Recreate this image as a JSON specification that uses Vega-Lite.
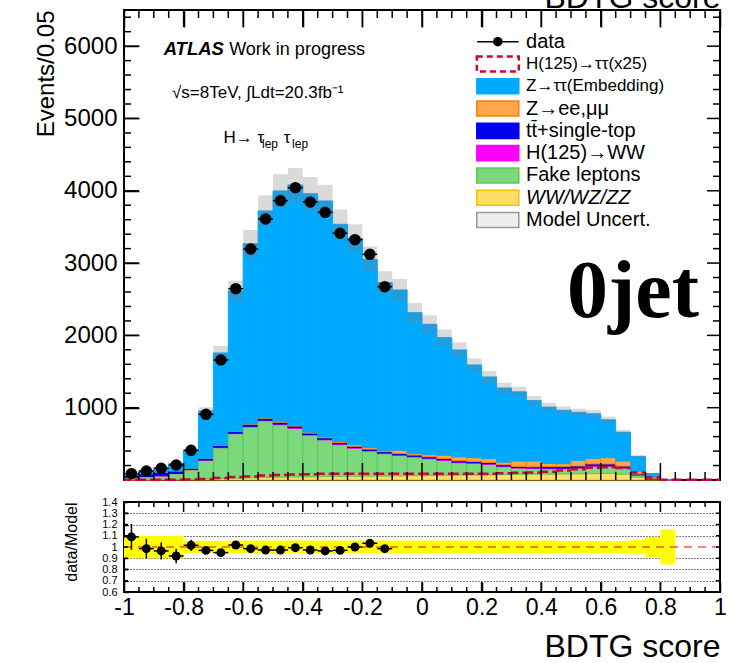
{
"$schema": "https://vega.github.io/schema/vega-lite/v6.json",
"padding": {"left": 33, "top": -20, "right": 4, "bottom": 4},
"background": "white",
"config": {
  "font": "Liberation Sans",
  "view": {"stroke": "black", "strokeWidth": 2},
  "axis": {"domain": false, "grid": false, "ticks": true, "tickColor": "black", "tickOpacity": 1, "tickWidth": 1.5, "labelColor": "black", "titleColor": "black", "labelFont": "Liberation Sans", "titleFont": "Liberation Sans", "titleFontWeight": "normal", "labelFlush": false, "labelOverlap": false, "labelBound": false, "zindex": 1}
},
"spacing": 11,
"datasets": {
  "bins": [
    {"lo":-1,"hi":-0.95,"vv":5,"fake":30,"hww":2,"top":30,"zll":1,"ztt":13,"htt":3,"unc":0.1,"data":88,"derr":9.4,"ratio":1.09,"rerr":0.115},
    {"lo":-0.95,"hi":-0.9,"vv":6,"fake":40,"hww":2,"top":40,"zll":1,"ztt":37,"htt":3,"unc":0.1,"data":124,"derr":11.1,"ratio":0.985,"rerr":0.088},
    {"lo":-0.9,"hi":-0.85,"vv":7,"fake":50,"hww":3,"top":45,"zll":2,"ztt":60,"htt":3,"unc":0.1,"data":161,"derr":12.7,"ratio":0.965,"rerr":0.076},
    {"lo":-0.85,"hi":-0.8,"vv":8,"fake":80,"hww":3,"top":35,"zll":2,"ztt":97,"htt":3,"unc":0.1,"data":207,"derr":14.4,"ratio":0.92,"rerr":0.064},
    {"lo":-0.8,"hi":-0.75,"vv":10,"fake":132,"hww":4,"top":15,"zll":2,"ztt":247,"htt":8,"unc":0.055,"data":410,"derr":20.2,"ratio":1.015,"rerr":0.05},
    {"lo":-0.75,"hi":-0.7,"vv":15,"fake":257,"hww":5,"top":20,"zll":3,"ztt":654,"htt":15,"unc":0.055,"data":908,"derr":30.1,"ratio":0.97,"rerr":0.033},
    {"lo":-0.7,"hi":-0.65,"vv":20,"fake":427,"hww":6,"top":25,"zll":4,"ztt":1275,"htt":28,"unc":0.055,"data":1660,"derr":40.7,"ratio":0.95,"rerr":0.024},
    {"lo":-0.65,"hi":-0.6,"vv":25,"fake":616,"hww":7,"top":25,"zll":5,"ztt":1936,"htt":40,"unc":0.055,"data":2646,"derr":51.4,"ratio":1.018,"rerr":0.02},
    {"lo":-0.6,"hi":-0.55,"vv":30,"fake":705,"hww":8,"top":25,"zll":6,"ztt":2494,"htt":50,"unc":0.058,"data":3195,"derr":56.5,"ratio":0.985,"rerr":0.018},
    {"lo":-0.55,"hi":-0.5,"vv":35,"fake":785,"hww":8,"top":22,"zll":8,"ztt":2862,"htt":62,"unc":0.058,"data":3610,"derr":60.1,"ratio":0.973,"rerr":0.017},
    {"lo":-0.5,"hi":-0.45,"vv":38,"fake":727,"hww":9,"top":22,"zll":10,"ztt":3191,"htt":70,"unc":0.058,"data":3864,"derr":62.2,"ratio":0.973,"rerr":0.016},
    {"lo":-0.45,"hi":-0.4,"vv":42,"fake":673,"hww":9,"top":22,"zll":12,"ztt":3322,"htt":75,"unc":0.058,"data":4043,"derr":63.6,"ratio":0.994,"rerr":0.016},
    {"lo":-0.4,"hi":-0.35,"vv":45,"fake":575,"hww":9,"top":20,"zll":14,"ztt":3297,"htt":80,"unc":0.058,"data":3845,"derr":62,"ratio":0.973,"rerr":0.016},
    {"lo":-0.35,"hi":-0.3,"vv":48,"fake":507,"hww":9,"top":20,"zll":16,"ztt":3259,"htt":85,"unc":0.058,"data":3702,"derr":60.8,"ratio":0.965,"rerr":0.016},
    {"lo":-0.3,"hi":-0.25,"vv":50,"fake":440,"hww":9,"top":20,"zll":18,"ztt":2999,"htt":85,"unc":0.058,"data":3412,"derr":58.4,"ratio":0.97,"rerr":0.017},
    {"lo":-0.25,"hi":-0.2,"vv":52,"fake":388,"hww":9,"top":18,"zll":25,"ztt":2851,"htt":85,"unc":0.058,"data":3324,"derr":57.7,"ratio":1.0,"rerr":0.017},
    {"lo":-0.2,"hi":-0.15,"vv":55,"fake":345,"hww":9,"top":18,"zll":25,"ztt":2600,"htt":85,"unc":0.058,"data":3121,"derr":55.9,"ratio":1.033,"rerr":0.018},
    {"lo":-0.15,"hi":-0.1,"vv":55,"fake":310,"hww":9,"top":18,"zll":20,"ztt":2317,"htt":85,"unc":0.058,"data":2674,"derr":51.7,"ratio":0.985,"rerr":0.019},
    {"lo":-0.1,"hi":-0.05,"vv":58,"fake":282,"hww":9,"top":18,"zll":45,"ztt":2216,"htt":85,"unc":0.058},
    {"lo":-0.05,"hi":0,"vv":60,"fake":258,"hww":9,"top":18,"zll":25,"ztt":1944,"htt":85,"unc":0.058},
    {"lo":0,"hi":0.05,"vv":62,"fake":233,"hww":8,"top":18,"zll":30,"ztt":1802,"htt":85,"unc":0.058},
    {"lo":0.05,"hi":0.1,"vv":65,"fake":207,"hww":8,"top":18,"zll":45,"ztt":1625,"htt":85,"unc":0.058},
    {"lo":0.1,"hi":0.15,"vv":68,"fake":172,"hww":8,"top":18,"zll":55,"ztt":1477,"htt":85,"unc":0.058},
    {"lo":0.15,"hi":0.2,"vv":70,"fake":161,"hww":8,"top":18,"zll":52,"ztt":1282,"htt":85,"unc":0.058},
    {"lo":0.2,"hi":0.25,"vv":72,"fake":145,"hww":8,"top":18,"zll":52,"ztt":1130,"htt":85,"unc":0.058},
    {"lo":0.25,"hi":0.3,"vv":75,"fake":110,"hww":8,"top":18,"zll":35,"ztt":1026,"htt":95,"unc":0.058},
    {"lo":0.3,"hi":0.35,"vv":78,"fake":87,"hww":7,"top":15,"zll":75,"ztt":957,"htt":100,"unc":0.058},
    {"lo":0.35,"hi":0.4,"vv":80,"fake":80,"hww":7,"top":15,"zll":81,"ztt":835,"htt":105,"unc":0.058},
    {"lo":0.4,"hi":0.45,"vv":82,"fake":76,"hww":7,"top":20,"zll":46,"ztt":777,"htt":115,"unc":0.058},
    {"lo":0.45,"hi":0.5,"vv":84,"fake":74,"hww":7,"top":20,"zll":41,"ztt":738,"htt":130,"unc":0.054},
    {"lo":0.5,"hi":0.55,"vv":86,"fake":79,"hww":7,"top":22,"zll":78,"ztt":664,"htt":150,"unc":0.054},
    {"lo":0.55,"hi":0.6,"vv":88,"fake":102,"hww":7,"top":25,"zll":78,"ztt":615,"htt":168,"unc":0.054},
    {"lo":0.6,"hi":0.65,"vv":90,"fake":100,"hww":7,"top":25,"zll":87,"ztt":523,"htt":175,"unc":0.054},
    {"lo":0.65,"hi":0.7,"vv":80,"fake":85,"hww":7,"top":20,"zll":71,"ztt":397,"htt":165,"unc":0.054},
    {"lo":0.7,"hi":0.75,"vv":40,"fake":29,"hww":4,"top":10,"zll":41,"ztt":199,"htt":105,"unc":0.065},
    {"lo":0.75,"hi":0.8,"vv":8,"fake":4,"hww":2,"top":5,"zll":13,"ztt":58,"htt":35,"unc":0.09},
    {"lo":0.8,"hi":0.85,"vv":1,"fake":1,"hww":0,"top":1,"zll":1,"ztt":4,"htt":2,"unc":0.155},
    {"lo":0.85,"hi":0.9,"vv":0,"fake":0,"hww":0,"top":0,"zll":0,"ztt":0,"htt":2,"unc":0},
    {"lo":0.9,"hi":0.95,"vv":0,"fake":0,"hww":0,"top":0,"zll":0,"ztt":0,"htt":2,"unc":0},
    {"lo":0.95,"hi":1,"vv":0,"fake":0,"hww":0,"top":0,"zll":0,"ztt":0,"htt":2,"unc":0}
  ],
  "ymain": [{"v":200},{"v":400},{"v":600},{"v":800},{"v":1000},{"v":1200},{"v":1400},{"v":1600},{"v":1800},{"v":2000},{"v":2200},{"v":2400},{"v":2600},{"v":2800},{"v":3000},{"v":3200},{"v":3400},{"v":3600},{"v":3800},{"v":4000},{"v":4200},{"v":4400},{"v":4600},{"v":4800},{"v":5000},{"v":5200},{"v":5400},{"v":5600},{"v":5800},{"v":6000},{"v":6200},{"v":6400}],
  "yratio": [{"v":0.7},{"v":0.8},{"v":0.9},{"v":1},{"v":1.1},{"v":1.2},{"v":1.3}],
  "legend": [
    {"k":0,"label":"data","proc":"data"},
    {"k":1,"label":"H(125)→ττ(x25)","proc":"htt"},
    {"k":2,"label":"Z→ττ(Embedding)","proc":"ztt"},
    {"k":3,"label":"Z→ee,μμ","proc":"zll"},
    {"k":4,"label":"tt̄+single-top","proc":"top"},
    {"k":5,"label":"H(125)→WW","proc":"hww"},
    {"k":6,"label":"Fake leptons","proc":"fake"},
    {"k":7,"label":"WW/WZ/ZZ","proc":"vv"},
    {"k":8,"label":"Model Uncert.","proc":"unc"}
  ]
},
"vconcat": [
{
  "width": 596, "height": 470,
  "resolve": {"scale": {"y": "independent", "fill": "independent", "stroke": "independent"}, "axis": {"x": "independent", "y": "independent"}},
  "layer": [
  {
    "data": {"name": "bins"},
    "resolve": {"axis": {"x": "independent", "y": "independent"}},
    "layer": [
    {
      "transform": [
        {"fold": ["vv","fake","hww","top","zll","ztt"], "as": ["proc","n"]},
        {"filter": "datum.n > 0"},
        {"calculate": "indexof(['vv','fake','hww','top','zll','ztt'], datum.proc)", "as": "ord"},
        {"stack": "n", "groupby": ["lo"], "sort": [{"field": "ord", "order": "ascending"}], "as": ["y0","y1"]}
      ],
      "mark": {"type": "rect", "strokeWidth": 1},
      "encoding": {
        "x": {"field": "lo", "type": "quantitative", "scale": {"domain": [-1,1], "nice": false, "zero": false}, "axis": null},
        "x2": {"field": "hi"},
        "y": {"field": "y0", "type": "quantitative", "scale": {"domain": [0,6500], "nice": false, "zero": false},
              "axis": {"orient": "left", "values": [1000,2000,3000,4000,5000,6000], "format": "d",
                       "labelFontSize": 24, "labelPadding": 7, "offset": -15, "tickSize": 15,
                       "title": "Events/0.05", "titleFontSize": 24, "titleAnchor": "end", "titlePadding": 5}},
        "y2": {"field": "y1"},
        "fill": {"field": "proc", "type": "nominal", "scale": {"domain": ["vv","fake","hww","top","zll","ztt"], "range": ["#ffe066","#7bd87b","#ff00ff","#0000ee","#ffa64d","#00aaff"]}, "legend": null},
        "stroke": {"field": "proc", "type": "nominal", "scale": {"domain": ["vv","fake","hww","top","zll","ztt"], "range": ["#ffbb00","#5cc85c","#ff00ff","#0000ee","#ff7f00","#00aaff"]}, "legend": null}
      }
    },
    {
      "transform": [
        {"filter": "datum.unc > 0"},
        {"calculate": "datum.vv+datum.fake+datum.hww+datum.top+datum.zll+datum.ztt", "as": "tot"},
        {"calculate": "datum.tot*(1-datum.unc)", "as": "ulo"},
        {"calculate": "datum.tot*(1+datum.unc)", "as": "uhi"}
      ],
      "mark": {"type": "rect", "fill": "#7a7a7a", "fillOpacity": 0.28},
      "encoding": {
        "x": {"field": "lo", "type": "quantitative",
              "axis": {"orient": "top", "values": [-1,-0.8,-0.6,-0.4,-0.2,0,0.2,0.4,0.6,0.8,1], "labels": false, "offset": -17, "tickSize": 17,
                       "title": "BDTG score", "titleFontSize": 32, "titleAnchor": "end", "titleBaseline": "alphabetic", "titlePadding": 2}},
        "x2": {"field": "hi"},
        "y": {"field": "ulo", "type": "quantitative", "axis": null},
        "y2": {"field": "uhi"}
      }
    },
    {
      "mark": {"type": "rule", "stroke": "#d4003a", "strokeWidth": 2.5, "strokeDash": [7,4]},
      "encoding": {
        "x": {"field": "lo", "type": "quantitative", "axis": null},
        "x2": {"field": "hi"},
        "y": {"field": "htt", "type": "quantitative", "axis": null}
      }
    },
    {
      "transform": [{"filter": "isValid(datum.data)"}],
      "mark": {"type": "rule", "stroke": "black", "strokeWidth": 1.5},
      "encoding": {
        "x": {"field": "lo", "type": "quantitative", "axis": null},
        "x2": {"field": "hi"},
        "y": {"field": "data", "type": "quantitative", "axis": null}
      }
    },
    {
      "transform": [{"filter": "isValid(datum.data)"}, {"calculate": "(datum.lo+datum.hi)/2", "as": "mid"}, {"calculate": "datum.data-datum.derr", "as": "elo"}, {"calculate": "datum.data+datum.derr", "as": "ehi"}],
      "mark": {"type": "rule", "stroke": "black", "strokeWidth": 1.5},
      "encoding": {
        "x": {"field": "mid", "type": "quantitative", "axis": null},
        "y": {"field": "elo", "type": "quantitative", "axis": null},
        "y2": {"field": "ehi"}
      }
    },
    {
      "transform": [{"filter": "isValid(datum.data)"}, {"calculate": "(datum.lo+datum.hi)/2", "as": "mid"}],
      "mark": {"type": "point", "filled": true, "fill": "black", "stroke": "black", "size": 90, "opacity": 1},
      "encoding": {
        "x": {"field": "mid", "type": "quantitative", "axis": null},
        "y": {"field": "data", "type": "quantitative", "axis": null}
      }
    },
    {
      "transform": [{"filter": "abs(datum.lo*5 - round(datum.lo*5)) < 0.001"}, {"calculate": "datum.lo", "as": "tx"}],
      "mark": {"type": "tick", "orient": "vertical", "color": "black", "thickness": 1.5, "size": 17, "yOffset": -8.5, "opacity": 1},
      "encoding": {"x": {"field": "tx", "type": "quantitative", "axis": null}, "y": {"datum": 0, "type": "quantitative", "axis": null}}
    },
    {
      "transform": [{"filter": "abs(datum.lo*5 - round(datum.lo*5)) >= 0.001"}, {"calculate": "datum.lo", "as": "tx"}],
      "mark": {"type": "tick", "orient": "vertical", "color": "black", "thickness": 1.5, "size": 8, "yOffset": -4, "opacity": 1},
      "encoding": {"x": {"field": "tx", "type": "quantitative", "axis": null}, "y": {"datum": 0, "type": "quantitative", "axis": null}}
    },
    {
      "transform": [{"filter": "abs(datum.lo*5 - round(datum.lo*5)) < 0.001"}, {"calculate": "datum.lo", "as": "tx"}],
      "mark": {"type": "tick", "orient": "vertical", "color": "black", "thickness": 1.5, "size": 17, "yOffset": 8.5, "opacity": 1},
      "encoding": {"x": {"field": "tx", "type": "quantitative", "axis": null}, "y": {"datum": 6500, "type": "quantitative", "axis": null}}
    },
    {
      "transform": [{"filter": "abs(datum.lo*5 - round(datum.lo*5)) >= 0.001"}, {"calculate": "datum.lo", "as": "tx"}],
      "mark": {"type": "tick", "orient": "vertical", "color": "black", "thickness": 1.5, "size": 8, "yOffset": 4, "opacity": 1},
      "encoding": {"x": {"field": "tx", "type": "quantitative", "axis": null}, "y": {"datum": 6500, "type": "quantitative", "axis": null}}
    },
    {
      "data": {"name": "ymain"},
      "transform": [{"filter": "datum.v % 1000 == 0"}],
      "mark": {"type": "tick", "orient": "horizontal", "color": "black", "thickness": 1.5, "size": 15, "xOffset": 7.5, "opacity": 1},
      "encoding": {"y": {"field": "v", "type": "quantitative", "axis": null}, "x": {"datum": -1, "type": "quantitative", "axis": null}}
    },
    {
      "data": {"name": "ymain"},
      "transform": [{"filter": "datum.v % 1000 != 0"}],
      "mark": {"type": "tick", "orient": "horizontal", "color": "black", "thickness": 1.5, "size": 7, "xOffset": 3.5, "opacity": 1},
      "encoding": {"y": {"field": "v", "type": "quantitative", "axis": null}, "x": {"datum": -1, "type": "quantitative", "axis": null}}
    },
    {
      "data": {"name": "ymain"},
      "transform": [{"filter": "datum.v % 1000 == 0"}],
      "mark": {"type": "tick", "orient": "horizontal", "color": "black", "thickness": 1.5, "size": 13, "xOffset": -6.5, "opacity": 1},
      "encoding": {"y": {"field": "v", "type": "quantitative", "axis": null}, "x": {"datum": 1, "type": "quantitative", "axis": null}}
    },
    {
      "data": {"name": "ymain"},
      "transform": [{"filter": "datum.v % 1000 != 0"}],
      "mark": {"type": "tick", "orient": "horizontal", "color": "black", "thickness": 1.5, "size": 7, "xOffset": -3.5, "opacity": 1},
      "encoding": {"y": {"field": "v", "type": "quantitative", "axis": null}, "x": {"datum": 1, "type": "quantitative", "axis": null}}
    },
    {
      "data": {"values": [{}]},
      "mark": {"type": "text", "text": "ATLAS", "fontWeight": "bold", "fontStyle": "italic", "fontSize": 18.5, "align": "left", "baseline": "alphabetic"},
      "encoding": {"x": {"datum": -0.867, "type": "quantitative", "axis": null}, "y": {"datum": 5878, "type": "quantitative", "axis": null}}
    },
    {
      "data": {"values": [{}]},
      "mark": {"type": "text", "text": "Work in progress", "fontSize": 18, "align": "left", "baseline": "alphabetic"},
      "encoding": {"x": {"datum": -0.647, "type": "quantitative", "axis": null}, "y": {"datum": 5878, "type": "quantitative", "axis": null}}
    },
    {
      "data": {"values": [{}]},
      "mark": {"type": "text", "text": "√s=8TeV, ∫Ldt=20.3fb⁻¹", "fontSize": 17, "align": "left", "baseline": "alphabetic"},
      "encoding": {"x": {"datum": -0.839, "type": "quantitative", "axis": null}, "y": {"datum": 5283, "type": "quantitative", "axis": null}}
    },
    {
      "data": {"values": [{}]},
      "mark": {"type": "text", "text": "H→ τ", "fontSize": 17, "align": "left", "baseline": "alphabetic"},
      "encoding": {"x": {"datum": -0.666, "type": "quantitative", "axis": null}, "y": {"datum": 4661, "type": "quantitative", "axis": null}}
    },
    {
      "data": {"values": [{}]},
      "mark": {"type": "text", "text": "lep", "fontSize": 12, "align": "left", "baseline": "alphabetic"},
      "encoding": {"x": {"datum": -0.537, "type": "quantitative", "axis": null}, "y": {"datum": 4587, "type": "quantitative", "axis": null}}
    },
    {
      "data": {"values": [{}]},
      "mark": {"type": "text", "text": "τ", "fontSize": 17, "align": "left", "baseline": "alphabetic"},
      "encoding": {"x": {"datum": -0.464, "type": "quantitative", "axis": null}, "y": {"datum": 4661, "type": "quantitative", "axis": null}}
    },
    {
      "data": {"values": [{}]},
      "mark": {"type": "text", "text": "lep", "fontSize": 12, "align": "left", "baseline": "alphabetic"},
      "encoding": {"x": {"datum": -0.436, "type": "quantitative", "axis": null}, "y": {"datum": 4587, "type": "quantitative", "axis": null}}
    },
    {
      "data": {"values": [{}]},
      "mark": {"type": "text", "text": "0jet", "font": "Liberation Serif", "fontWeight": "bold", "fontSize": 82, "align": "left", "baseline": "alphabetic"},
      "encoding": {"x": {"datum": 0.4866, "type": "quantitative", "axis": null}, "y": {"datum": 2258, "type": "quantitative", "axis": null}}
    }
    ]
  },
  {
    "data": {"name": "legend"},
    "layer": [
    {
      "transform": [{"filter": "datum.k == 0"}],
      "mark": {"type": "rule", "stroke": "black", "strokeWidth": 1.5},
      "encoding": {
        "x": {"datum": 0.185, "type": "quantitative", "axis": null},
        "x2": {"datum": 0.3245},
        "y": {"field": "k", "type": "quantitative", "scale": {"domain": [-1.42, 19.66], "reverse": true, "nice": false, "zero": false}, "axis": null}
      }
    },
    {
      "transform": [{"filter": "datum.k == 0"}],
      "mark": {"type": "point", "filled": true, "fill": "black", "size": 90, "opacity": 1},
      "encoding": {
        "x": {"datum": 0.2544, "type": "quantitative", "axis": null},
        "y": {"field": "k", "type": "quantitative", "axis": null}
      }
    },
    {
      "transform": [{"filter": "datum.k == 1"}],
      "mark": {"type": "point", "shape": "M-1,-0.36H1V0.36H-1Z", "size": 1764, "filled": false, "stroke": "#d4003a", "strokeWidth": 2.5, "strokeDash": [6,4], "opacity": 1},
      "encoding": {
        "x": {"datum": 0.2544, "type": "quantitative", "axis": null},
        "y": {"field": "k", "type": "quantitative", "axis": null}
      }
    },
    {
      "transform": [{"filter": "datum.k >= 2"}],
      "mark": {"type": "point", "shape": "M-1,-0.36H1V0.36H-1Z", "size": 1764, "filled": true, "strokeWidth": 1.5, "opacity": 1},
      "encoding": {
        "x": {"datum": 0.2544, "type": "quantitative", "axis": null},
        "y": {"field": "k", "type": "quantitative", "axis": null},
        "fill": {"field": "proc", "type": "nominal", "scale": {"domain": ["ztt","zll","top","hww","fake","vv","unc"], "range": ["#00aaff","#ffa64d","#0000ee","#ff00ff","#7bd87b","#ffe066","#eeeeee"]}, "legend": null},
        "stroke": {"field": "proc", "type": "nominal", "scale": {"domain": ["ztt","zll","top","hww","fake","vv","unc"], "range": ["#00aaff","#ff7f00","#0000ee","#ff00ff","#5cc85c","#ffbb00","#999999"]}, "legend": null}
      }
    },
    {
      "transform": [{"filter": "datum.k == 0 || (datum.k >= 3 && datum.k != 7)"}],
      "mark": {"type": "text", "fontSize": 20, "align": "left", "baseline": "middle"},
      "encoding": {
        "x": {"datum": 0.349, "type": "quantitative", "axis": null},
        "y": {"field": "k", "type": "quantitative", "axis": null},
        "text": {"field": "label"}
      }
    },
    {
      "transform": [{"filter": "datum.k == 1 || datum.k == 2"}],
      "mark": {"type": "text", "fontSize": 17, "align": "left", "baseline": "middle"},
      "encoding": {
        "x": {"datum": 0.349, "type": "quantitative", "axis": null},
        "y": {"field": "k", "type": "quantitative", "axis": null},
        "text": {"field": "label"}
      }
    },
    {
      "transform": [{"filter": "datum.k == 7"}],
      "mark": {"type": "text", "fontSize": 20, "fontStyle": "italic", "align": "left", "baseline": "middle"},
      "encoding": {
        "x": {"datum": 0.349, "type": "quantitative", "axis": null},
        "y": {"field": "k", "type": "quantitative", "axis": null},
        "text": {"field": "label"}
      }
    }
    ]
  }
  ]
},
{
  "width": 596, "height": 90,
  "data": {"name": "bins"},
  "resolve": {"axis": {"x": "independent", "y": "independent"}},
  "layer": [
  {
    "transform": [{"filter": "datum.unc > 0"}, {"calculate": "1-datum.unc", "as": "rlo"}, {"calculate": "1+datum.unc", "as": "rhi"}],
    "mark": {"type": "rect", "fill": "#ffff00", "clip": true},
    "encoding": {
      "x": {"field": "lo", "type": "quantitative", "scale": {"domain": [-1,1], "nice": false, "zero": false},
            "axis": {"orient": "bottom", "values": [-1,-0.8,-0.6,-0.4,-0.2,0,0.2,0.4,0.6,0.8,1],
                     "labelExpr": "replace(format(datum.value, '.1~f'), '−', '-')",
                     "labelFontSize": 23, "labelPadding": 4, "offset": -10, "tickSize": 10,
                     "title": "BDTG score", "titleFontSize": 32, "titleAnchor": "end", "titlePadding": 12}},
      "x2": {"field": "hi"},
      "y": {"field": "rlo", "type": "quantitative", "scale": {"domain": [0.6,1.4], "nice": false, "zero": false},
            "axis": {"orient": "left", "values": [0.6,0.7,0.8,0.9,1,1.1,1.2,1.3,1.4],
                     "labelExpr": "replace(format(datum.value, '.1~f'), '−', '-')",
                     "labelFontSize": 11, "labelPadding": 7, "offset": -4, "tickSize": 4,
                     "title": "data/Model", "titleFontSize": 16, "titleAnchor": "end", "titlePadding": 22}},
      "y2": {"field": "rhi"}
    }
  },
  {
    "data": {"values": [{}]},
    "mark": {"type": "rule", "stroke": "#ff0000", "strokeWidth": 1, "strokeDash": [8,6]},
    "encoding": {"y": {"datum": 1, "type": "quantitative",
      "axis": {"orient": "left", "values": [0.7,0.8,0.9,1.1,1.2,1.3], "ticks": false, "labels": false, "title": null, "grid": true, "gridDash": [1,2], "gridColor": "black", "gridWidth": 1}}}
  },
  {
    "transform": [{"filter": "isValid(datum.ratio)"}],
    "mark": {"type": "rule", "stroke": "black", "strokeWidth": 1.5, "clip": true},
    "encoding": {
      "x": {"field": "lo", "type": "quantitative", "axis": null},
      "x2": {"field": "hi"},
      "y": {"field": "ratio", "type": "quantitative", "axis": null}
    }
  },
  {
    "transform": [{"filter": "isValid(datum.ratio)"}, {"calculate": "(datum.lo+datum.hi)/2", "as": "mid"}, {"calculate": "datum.ratio-datum.rerr", "as": "rl"}, {"calculate": "datum.ratio+datum.rerr", "as": "rh"}],
    "mark": {"type": "rule", "stroke": "black", "strokeWidth": 1.5, "clip": true},
    "encoding": {
      "x": {"field": "mid", "type": "quantitative", "axis": null},
      "y": {"field": "rl", "type": "quantitative", "axis": null},
      "y2": {"field": "rh"}
    }
  },
  {
    "transform": [{"filter": "isValid(datum.ratio)"}, {"calculate": "(datum.lo+datum.hi)/2", "as": "mid"}],
    "mark": {"type": "point", "filled": true, "fill": "black", "size": 80, "opacity": 1, "clip": true},
    "encoding": {
      "x": {"field": "mid", "type": "quantitative", "axis": null},
      "y": {"field": "ratio", "type": "quantitative", "axis": null}
    }
  },
  {
    "transform": [{"filter": "abs(datum.lo*5 - round(datum.lo*5)) < 0.001"}, {"calculate": "datum.lo", "as": "tx"}],
    "mark": {"type": "tick", "orient": "vertical", "color": "black", "thickness": 1.5, "size": 10, "yOffset": -5, "opacity": 1},
    "encoding": {"x": {"field": "tx", "type": "quantitative", "axis": null}, "y": {"datum": 0.6, "type": "quantitative", "axis": null}}
  },
  {
    "transform": [{"filter": "abs(datum.lo*5 - round(datum.lo*5)) >= 0.001"}, {"calculate": "datum.lo", "as": "tx"}],
    "mark": {"type": "tick", "orient": "vertical", "color": "black", "thickness": 1.5, "size": 5, "yOffset": -2.5, "opacity": 1},
    "encoding": {"x": {"field": "tx", "type": "quantitative", "axis": null}, "y": {"datum": 0.6, "type": "quantitative", "axis": null}}
  },
  {
    "transform": [{"filter": "abs(datum.lo*5 - round(datum.lo*5)) < 0.001"}, {"calculate": "datum.lo", "as": "tx"}],
    "mark": {"type": "tick", "orient": "vertical", "color": "black", "thickness": 1.5, "size": 10, "yOffset": 5, "opacity": 1},
    "encoding": {"x": {"field": "tx", "type": "quantitative", "axis": null}, "y": {"datum": 1.4, "type": "quantitative", "axis": null}}
  },
  {
    "transform": [{"filter": "abs(datum.lo*5 - round(datum.lo*5)) >= 0.001"}, {"calculate": "datum.lo", "as": "tx"}],
    "mark": {"type": "tick", "orient": "vertical", "color": "black", "thickness": 1.5, "size": 5, "yOffset": 2.5, "opacity": 1},
    "encoding": {"x": {"field": "tx", "type": "quantitative", "axis": null}, "y": {"datum": 1.4, "type": "quantitative", "axis": null}}
  },
  {
    "data": {"name": "yratio"},
    "mark": {"type": "tick", "orient": "horizontal", "color": "black", "thickness": 1.5, "size": 4, "xOffset": 2, "opacity": 1},
    "encoding": {"y": {"field": "v", "type": "quantitative", "axis": null}, "x": {"datum": -1, "type": "quantitative", "axis": null}}
  },
  {
    "data": {"name": "yratio"},
    "mark": {"type": "tick", "orient": "horizontal", "color": "black", "thickness": 1.5, "size": 4, "xOffset": -2, "opacity": 1},
    "encoding": {"y": {"field": "v", "type": "quantitative", "axis": null}, "x": {"datum": 1, "type": "quantitative", "axis": null}}
  }
  ]
}
]
}
